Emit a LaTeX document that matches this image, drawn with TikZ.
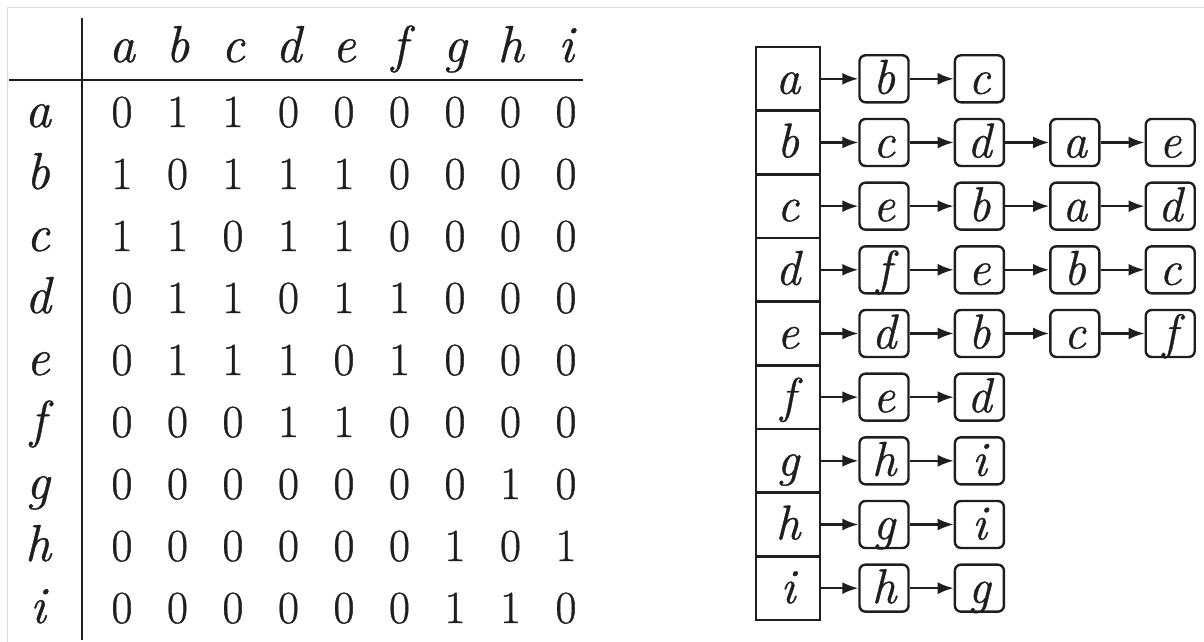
\documentclass[tikz,border=0pt]{standalone}
\usepackage{fontspec}
\newfontfamily\lmx{Latin Modern Roman}[FakeBold=0.8, ItalicFeatures={FakeBold=0.8}]
\usetikzlibrary{arrows.meta}
\definecolor{ink}{HTML}{1E1E1E}
\definecolor{frame}{HTML}{DDDDDD}
\begin{document}
\begin{tikzpicture}[x=1pt,y=-1pt,
  lbl/.style={font=\lmx\fontsize{52}{60}\selectfont\itshape, inner sep=0pt, anchor=base, text=ink},
  num/.style={font=\lmx\fontsize{46}{55}\selectfont, inner sep=0pt, anchor=base, text=ink},
  cell/.style={draw=ink, line width=2.4pt, minimum width=64pt, minimum height=63.67pt, inner sep=0pt,
    text height=30pt, text depth=0pt, font=\lmx\fontsize{49}{56}\selectfont\itshape, text=ink},
  item/.style={draw=ink, line width=2.4pt, rounded corners=6pt, minimum width=49pt, minimum height=47pt,
    inner sep=0pt, text height=30pt, text depth=0pt, font=\lmx\fontsize{49}{56}\selectfont\itshape, text=ink},
  arr/.style={draw=ink, line width=2.2pt, -{Latex[length=16pt,width=12pt]}},
  rulel/.style={draw=ink, line width=2.2pt},
  framel/.style={draw=frame, line width=1.5pt}]
\useasboundingbox (0,0) rectangle (1204,642);
% screenshot frame
\coordinate (f1) at (7.5,642);
\coordinate (f2) at (7.5,7.5);
\coordinate (f3) at (1204,7.5);
\draw[framel] (f1) -- (f2) -- (f3);
% table rules
\coordinate (hl) at (9,80);
\coordinate (hr) at (583,80);
\coordinate (vt) at (82,18);
\coordinate (vb) at (82,640);
\draw[rulel] (hl) -- (hr);
\draw[rulel] (vt) -- (vb);
% header
\foreach \c [count=\ci from 0] in {a,b,c,d,e,f,g,h,i}
  \node[lbl] (h-\c) at ({122+55.5*\ci},62) {\c};
% matrix rows
\foreach \r/\row [count=\ri from 0] in {
  a/{0,1,1,0,0,0,0,0,0},
  b/{1,0,1,1,1,0,0,0,0},
  c/{1,1,0,1,1,0,0,0,0},
  d/{0,1,1,0,1,1,0,0,0},
  e/{0,1,1,1,0,1,0,0,0},
  f/{0,0,0,1,1,0,0,0,0},
  g/{0,0,0,0,0,0,0,1,0},
  h/{0,0,0,0,0,0,1,0,1},
  i/{0,0,0,0,0,0,1,1,0}}{
  \node[lbl] (r-\r) at (38,{127+62*\ri}) {\r};
  \foreach \v [count=\ci from 0] in \row
    \node[num] (m-\r-\ci) at ({122+55.5*\ci},{127+62*\ri}) {\v};
}
% adjacency lists
\foreach \r/\lst [count=\ri from 0] in {
  a/{b,c},
  b/{c,d,a,e},
  c/{e,b,a,d},
  d/{f,e,b,c},
  e/{d,b,c,f},
  f/{e,d},
  g/{h,i},
  h/{g,i},
  i/{h,g}}{
  \node[cell] (L-\r-0) at (788,{78.8+63.67*\ri}) {\r};
  \foreach \n [count=\k, remember=\k as \pk (initially 0)] in \lst {
    \node[item] (L-\r-\k) at ({884+95.4*(\k-1)},{78.8+63.67*\ri}) {\n};
    \draw[arr] (L-\r-\pk) -- (L-\r-\k);
  }
}
\end{tikzpicture}
\end{document}
